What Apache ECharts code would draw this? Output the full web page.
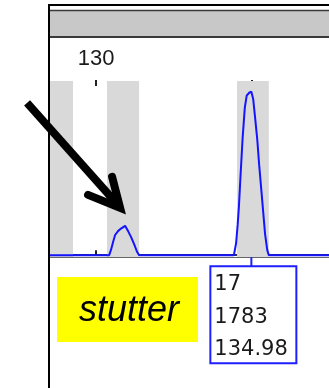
<!DOCTYPE html>
<html><head><meta charset="utf-8">
<script src="https://cdn.jsdelivr.net/npm/echarts@6/dist/echarts.min.js"></script>
<style>html,body{margin:0;padding:0;background:#fff;}#c{width:329px;height:388px;}</style>
</head><body><div id="c"></div>
<script>
// fragment sizes (bp) and signal (RFU) of the trace
const traceBp  = [128.49, 130.42, 130.48, 130.55, 130.61, 130.71, 130.80, 130.93, 131.03, 131.12, 131.22, 131.31, 131.38,
                  134.42, 134.49, 134.54, 134.58, 134.63, 134.70, 134.77, 134.83, 134.91, 134.98, 135.04, 135.10, 135.17,
                  135.23, 135.30, 135.36, 135.42, 135.49, 135.54, 137.47];
const traceRfu = [0, 0, 60, 150, 220, 265, 290, 320, 260, 200, 120, 40, 0,
                  0, 130, 330, 525, 850, 1280, 1610, 1740, 1772, 1783, 1700, 1500, 1260,
                  985, 710, 470, 230, 55, 0, 0];
// allele bins (bp)
const binStart = [128.30, 130.35, 134.52];
const binEnd   = [129.26, 131.38, 135.54];
// axis ticks
const tickValues = [130, 135];
const tickLabels = [130];
// called peak
const peakAllele = '17';
const peakHeight = 1783;
const peakSize = 134.98;
const stutterApex = [130.93, 320];
const stutterText = 'stutter';

const xMin = 128.49, xMax = 137.47;
const chart = echarts.init(document.getElementById('c'), null, {renderer: 'canvas'});
const data = traceBp.map((b, i) => [b, traceRfu[i]]);
const tickFont = {fontFamily: 'Liberation Sans', fontSize: 22, color: '#1a1a1a'};

chart.setOption({
  animation: false,
  backgroundColor: '#fff',
  grid: {left: 49, right: 0, top: 81, height: 176},
  xAxis: [
    {type: 'value', position: 'top', offset: 1, min: xMin, max: xMax,
     axisLine: {show: true, lineStyle: {color: '#333', width: 2}},
     axisTick: {show: true, customValues: tickValues, length: 5, lineStyle: {color: '#222', width: 2}},
     axisLabel: {show: true, customValues: tickLabels, margin: 10, ...tickFont},
     splitLine: {show: false}},
    {type: 'value', position: 'top', offset: 1, min: xMin, max: xMax,
     axisLine: {show: false},
     axisTick: {show: true, inside: true, customValues: tickValues, length: 6, lineStyle: {color: '#222', width: 2}},
     axisLabel: {show: false}, splitLine: {show: false}},
    {type: 'value', position: 'bottom', min: xMin, max: xMax,
     axisLine: {show: true, lineStyle: {color: '#666', width: 1}},
     axisTick: {show: false}, axisLabel: {show: false}, splitLine: {show: false}}
  ],
  yAxis: {type: 'value', min: -20, max: 1900, show: false, splitLine: {show: false}},
  series: [{
    type: 'line', xAxisIndex: 0, data: data, showSymbol: false, z: 5,
    lineStyle: {color: '#1414ff', width: 2}, silent: true,
    markArea: {silent: true, itemStyle: {color: '#d9d9d9'},
      data: binStart.map((s, i) => [{xAxis: s}, {xAxis: binEnd[i]}])}
  }]
});

const p = chart.convertToPixel({gridIndex: 0}, [peakSize, 0]);
const s = chart.convertToPixel({gridIndex: 0}, stutterApex);
const tip = [s[0] - 5, s[1] - 18];
const blue = '#1f1fff';
const boxFont = '21px "DejaVu Sans"';
chart.setOption({graphic: [
  // frame
  {type: 'line', shape: {x1: 48, y1: 5, x2: 329, y2: 5}, style: {stroke: '#000', lineWidth: 2}, z: 100},
  {type: 'line', shape: {x1: 49, y1: 4, x2: 49, y2: 388}, style: {stroke: '#000', lineWidth: 2}, z: 100},
  {type: 'rect', shape: {x: 50, y: 10, width: 280, height: 27}, style: {fill: '#c8c8c8'}, z: 90},
  {type: 'line', shape: {x1: 50, y1: 10.5, x2: 329, y2: 10.5}, style: {stroke: '#3a3a3a', lineWidth: 1.5}, z: 91},
  {type: 'line', shape: {x1: 50, y1: 37, x2: 329, y2: 37}, style: {stroke: '#3a3a3a', lineWidth: 2}, z: 91},
  // peak label box
  {type: 'line', shape: {x1: p[0], y1: p[1] + 2, x2: p[0], y2: p[1] + 11}, style: {stroke: blue, lineWidth: 2}, z: 100},
  {type: 'rect', shape: {x: p[0] - 41, y: p[1] + 11, width: 86, height: 97}, style: {fill: '#fff', stroke: blue, lineWidth: 2}, z: 100},
  {type: 'text', x: p[0] - 37, y: p[1] + 29, style: {text: peakAllele, font: boxFont, fill: '#1a1a1a', verticalAlign: 'middle'}, z: 101},
  {type: 'text', x: p[0] - 37, y: p[1] + 62, style: {text: String(peakHeight), font: boxFont, fill: '#1a1a1a', verticalAlign: 'middle'}, z: 101},
  {type: 'text', x: p[0] - 37, y: p[1] + 94, style: {text: peakSize.toFixed(2), font: boxFont, fill: '#1a1a1a', verticalAlign: 'middle'}, z: 101},
  // stutter annotation
  {type: 'rect', shape: {x: 57, y: 277, width: 141, height: 65}, style: {fill: '#ffff00'}, z: 100},
  {type: 'text', x: 129, y: 311, style: {text: stutterText, font: 'italic 36px "Liberation Sans"', fill: '#000', align: 'center', verticalAlign: 'middle'}, z: 101},
  {type: 'line', shape: {x1: tip[0] - 93, y1: tip[1] - 105, x2: tip[0] - 3, y2: tip[1] - 4}, style: {stroke: '#000', lineWidth: 8}, z: 110},
  {type: 'polyline', shape: {points: [[tip[0] - 32, tip[1] - 13], tip, [tip[0] - 8, tip[1] - 31]]}, style: {stroke: '#000', lineWidth: 8, lineCap: 'round', lineJoin: 'miter', fill: null}, z: 110}
]});
</script></body></html>
